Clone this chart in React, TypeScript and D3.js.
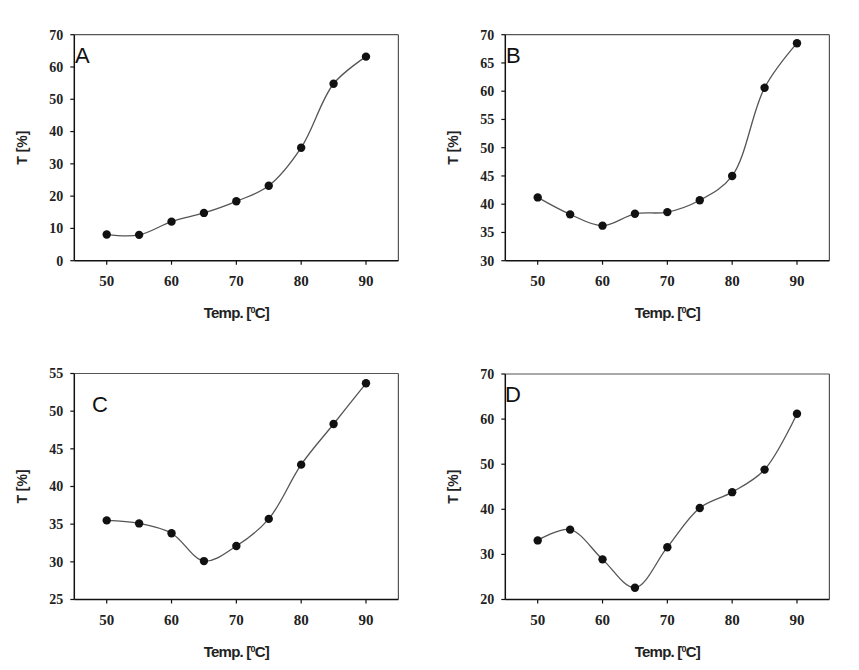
import React from "react";
import * as d3 from "d3";

const temps = [50, 55, 60, 65, 70, 75, 80, 85, 90];
const xTicks = [50, 60, 70, 80, 90];

const seriesA = [8.1, 8.0, 12.1, 14.8, 18.4, 23.2, 35.0, 54.8, 63.2];
const seriesB = [41.2, 38.2, 36.2, 38.3, 38.6, 40.7, 45.0, 60.6, 68.5];
const seriesC = [35.5, 35.1, 33.8, 30.1, 32.1, 35.7, 42.9, 48.3, 53.7];
const seriesD = [33.1, 35.5, 28.9, 22.6, 31.6, 40.3, 43.8, 48.8, 61.2];

const yTicksA = [0, 10, 20, 30, 40, 50, 60, 70];
const yTicksB = [30, 35, 40, 45, 50, 55, 60, 65, 70];
const yTicksC = [25, 30, 35, 40, 45, 50, 55];
const yTicksD = [20, 30, 40, 50, 60, 70];

const letters = ["A", "B", "C", "D"];
const xTitle = "Temp. [";
const yTitle = "T [%]";

type Panel = {
  letter: string;
  values: number[];
  yTicks: number[];
  left: number;
  right: number;
  top: number;
  bottom: number;
  lx: number;
  ly: number;
  titleY: number;
};

const panels: Panel[] = [
  { letter: letters[0], values: seriesA, yTicks: yTicksA, left: 74.3, right: 398.4, top: 34.7, bottom: 260.7, lx: 75, ly: 63, titleY: 318 },
  { letter: letters[1], values: seriesB, yTicks: yTicksB, left: 505.3, right: 829.4, top: 34.7, bottom: 260.7, lx: 506, ly: 63, titleY: 318 },
  { letter: letters[2], values: seriesC, yTicks: yTicksC, left: 74.3, right: 398.4, top: 373.5, bottom: 599.5, lx: 92, ly: 412, titleY: 657 },
  { letter: letters[3], values: seriesD, yTicks: yTicksD, left: 505.3, right: 829.4, top: 374, bottom: 599.5, lx: 505, ly: 402, titleY: 657 },
];

function PanelView({ p }: { p: Panel }) {
  const x = d3.scaleLinear().domain([45, 95]).range([p.left, p.right]);
  const yd = d3.extent(p.yTicks) as [number, number];
  const y = d3.scaleLinear().domain(yd).range([p.bottom, p.top]);
  const pts = temps.map((t, i) => [x(t), y(p.values[i])] as [number, number]);
  const line = d3.line().curve(d3.curveCatmullRom.alpha(0.5))(pts) || "";
  const cx = (p.left + p.right) / 2;
  const cy = (p.top + p.bottom) / 2;
  return (
    <g>
      <line x1={p.left} x2={p.right} y1={p.top} y2={p.top} stroke="#555" strokeWidth={1.2} />
      <line x1={p.right} x2={p.right} y1={p.top} y2={p.bottom} stroke="#555" strokeWidth={1.2} />
      <line x1={p.left} x2={p.left} y1={p.top} y2={p.bottom} stroke="#111" strokeWidth={1.5} />
      <line x1={p.left} x2={p.right} y1={p.bottom} y2={p.bottom} stroke="#111" strokeWidth={1.5} />
      {p.yTicks.map((t) => (
        <g key={"y" + t}>
          <line x1={p.left - 4} x2={p.left} y1={y(t)} y2={y(t)} stroke="#111" strokeWidth={1.2} />
          <text x={p.left - 11} y={y(t)} dy="0.35em" textAnchor="end" fontFamily="'Liberation Serif', serif" fontWeight="bold" fontSize={14} fill="#222">
            {t}
          </text>
        </g>
      ))}
      {xTicks.map((t) => (
        <g key={"x" + t}>
          <line x1={x(t)} x2={x(t)} y1={p.bottom} y2={p.bottom + 4} stroke="#111" strokeWidth={1.2} />
          <text x={x(t)} y={p.bottom + 25} textAnchor="middle" fontFamily="'Liberation Serif', serif" fontWeight="bold" fontSize={15} fill="#222">
            {t}
          </text>
        </g>
      ))}
      <path d={line} fill="none" stroke="#555" strokeWidth={1.3} />
      {pts.map((pt, i) => (
        <circle key={i} cx={pt[0]} cy={pt[1]} r={4.2} fill="#111" />
      ))}
      <text x={p.lx} y={p.ly} fontFamily="'Liberation Sans', Arial, sans-serif" fontSize={22} fill="#111">
        {p.letter}
      </text>
      <text x={cx} y={p.titleY} textAnchor="middle" fontFamily="'Liberation Sans', Arial, sans-serif" fontWeight="bold" fontSize={15} letterSpacing={-0.8} fill="#222">
        {xTitle}
        <tspan fontSize={9} dy={-5}>0</tspan>
        <tspan dy={5}>C]</tspan>
      </text>
      <text transform={`translate(${p.left - 47},${cy}) rotate(-90)`} x={0} y={0} textAnchor="middle" fontFamily="'Liberation Sans', Arial, sans-serif" fontWeight="bold" fontSize={14} fill="#222">
        {yTitle}
      </text>
    </g>
  );
}

export default function App() {
  return (
    <svg width={859} height={670} style={{ position: "absolute", left: 0, top: 0, background: "#fff" }}>
      <rect width={859} height={670} fill="#fff" />
      {panels.map((p) => (
        <PanelView key={p.letter} p={p} />
      ))}
    </svg>
  );
}
